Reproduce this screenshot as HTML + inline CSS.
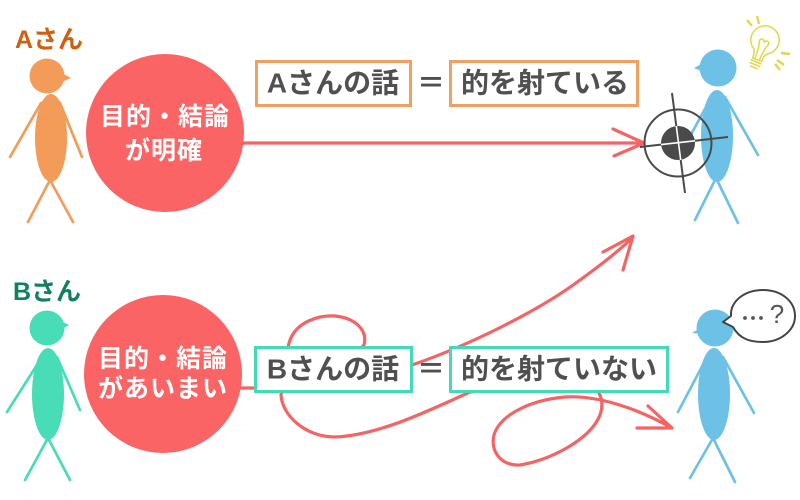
<!DOCTYPE html>
<html><head><meta charset="utf-8">
<style>
html,body{margin:0;padding:0;background:#fff;}
svg{display:block;}
text{font-family:"Liberation Sans","Noto Sans CJK JP",sans-serif;}
</style></head>
<body>
<svg width="800" height="500" viewBox="0 0 800 500" xmlns="http://www.w3.org/2000/svg">
  <!-- Person A (orange) -->
  <text x="49" y="40" font-size="25" font-weight="700" fill="#cf600f" text-anchor="middle" dominant-baseline="central">Aさん</text>
  <g stroke="#f39c5a" stroke-width="2.7" stroke-linecap="round" fill="none">
    <line x1="41" y1="103" x2="10" y2="157"/>
    <line x1="60" y1="103" x2="82" y2="157"/>
    <line x1="50" y1="180" x2="28" y2="222"/>
    <line x1="50" y1="180" x2="73" y2="222"/>
  </g>
  <circle cx="47" cy="76" r="17.5" fill="#f39c5a"/>
  <polygon points="62,73 71,78 62,82" fill="#f39c5a"/>
  <ellipse cx="51" cy="138" rx="16" ry="44" fill="#f39c5a"/>

  <!-- Person B (green) -->
  <text x="47" y="292" font-size="25" font-weight="700" fill="#0f8060" text-anchor="middle" dominant-baseline="central">Bさん</text>
  <g stroke="#48ddb6" stroke-width="2.7" stroke-linecap="round" fill="none">
    <line x1="42" y1="357" x2="7" y2="412"/>
    <line x1="57" y1="357" x2="80" y2="410"/>
    <line x1="48" y1="438" x2="25" y2="480"/>
    <line x1="48" y1="438" x2="70" y2="480"/>
  </g>
  <circle cx="47" cy="328" r="17.5" fill="#48ddb6"/>
  <polygon points="61,321 69,325 61,330" fill="#48ddb6"/>
  <ellipse cx="48" cy="394" rx="16" ry="46" fill="#48ddb6"/>

  <!-- Red lines -->
  <g stroke="#f46464" stroke-width="3.2" stroke-linecap="round" stroke-linejoin="round" fill="none">
    <line x1="240" y1="143" x2="643" y2="143"/>
    <polyline points="613,129 644,143 614,156"/>
    <path d="M240,388 L262,388 C330,385 380,375 412,365 C470,345 540,310 580,280 C605,262 622,248 633,237"/>
    <path d="M603,252 L633,236 L623,270"/>
    <path d="M300,380 C285,370 285,355 290,340 C297,322 318,315 335,316 C355,318 368,330 364,345 L340,370 C300,380 282,385 281,395 C282,415 305,437 335,437 C380,435 430,410 470,392 L580,380 C600,385 605,400 600,415 C590,440 550,460 520,465 C500,466 490,450 494,435 C500,415 530,400 565,397 C600,395 640,410 672,428"/>
    <path d="M648,406 L672,428 L637,428"/>
  </g>

  <!-- Red circles -->
  <circle cx="165" cy="133" r="79" fill="#fa6464"/>
  <text x="165" y="117" font-size="25" font-weight="700" fill="#fff" text-anchor="middle" dominant-baseline="central" letter-spacing="1">目的・結論</text>
  <text x="164" y="151" font-size="25" font-weight="700" fill="#fff" text-anchor="middle" dominant-baseline="central" letter-spacing="1">が明確</text>
  <circle cx="163" cy="374" r="79" fill="#fa6464"/>
  <text x="163" y="359" font-size="25" font-weight="700" fill="#fff" text-anchor="middle" dominant-baseline="central" letter-spacing="1">目的・結論</text>
  <text x="163" y="389" font-size="25" font-weight="700" fill="#fff" text-anchor="middle" dominant-baseline="central" letter-spacing="1">があいまい</text>

  <!-- A boxes -->
  <rect x="256.5" y="61.5" width="154" height="44" fill="#fff" stroke="#f0a060" stroke-width="3"/>
  <text x="333" y="83" font-size="28" font-weight="700" fill="#505050" text-anchor="middle" dominant-baseline="central">Aさんの話</text>
  <text x="431" y="83" font-size="28" font-weight="700" fill="#505050" text-anchor="middle" dominant-baseline="central">＝</text>
  <rect x="450.5" y="61.5" width="187" height="44" fill="#fff" stroke="#f0a060" stroke-width="3"/>
  <text x="545" y="83" font-size="28" font-weight="700" fill="#505050" text-anchor="middle" dominant-baseline="central">的を射ている</text>

  <!-- B boxes -->
  <rect x="255.5" y="347.5" width="156" height="44" fill="#fff" stroke="#45dab6" stroke-width="3"/>
  <text x="333" y="369" font-size="28" font-weight="700" fill="#505050" text-anchor="middle" dominant-baseline="central">Bさんの話</text>
  <text x="431" y="369" font-size="28" font-weight="700" fill="#505050" text-anchor="middle" dominant-baseline="central">＝</text>
  <rect x="450.5" y="347.5" width="217" height="44" fill="#fff" stroke="#45dab6" stroke-width="3"/>
  <text x="559" y="369" font-size="28" font-weight="700" fill="#505050" text-anchor="middle" dominant-baseline="central">的を射ていない</text>

  <!-- Upper right person (blue) -->
  <g stroke="#6ec1e6" stroke-width="2.7" stroke-linecap="round" fill="none">
    <line x1="712" y1="96" x2="688" y2="140"/>
    <line x1="725" y1="97" x2="758" y2="155"/>
    <line x1="715" y1="180" x2="695" y2="220"/>
    <line x1="717" y1="180" x2="738" y2="223"/>
  </g>
  <circle cx="718" cy="68" r="18.5" fill="#6ec1e6"/>
  <polygon points="703,63 694,68 703,72" fill="#6ec1e6"/>
  <ellipse cx="717" cy="136" rx="16" ry="46" fill="#6ec1e6"/>

  <!-- Target -->
  <g stroke="#4a4a4a" stroke-width="2" fill="none">
    <circle cx="678" cy="143" r="33.5"/>
    <line x1="672" y1="93" x2="685" y2="193"/>
    <line x1="640" y1="147" x2="728" y2="137"/>
  </g>
  <circle cx="678" cy="143" r="17" fill="#4a4a4a"/>
  <g stroke="#fff" stroke-width="1.6">
    <line x1="676.3" y1="126" x2="680.7" y2="160"/>
    <line x1="661" y1="144.6" x2="695" y2="140.8"/>
  </g>

  <!-- Light bulb -->
  <g transform="translate(765,40) rotate(22) scale(1.18)" stroke="#e3d54c" stroke-width="1.3" fill="none" stroke-linecap="round" stroke-linejoin="round">
    <path d="M-6,10.4 A12,12 0 1 1 6,10.4 C4.5,12.5 4,15 4,18 L-4,18 C-4,15 -4.5,12.5 -6,10.4 Z"/>
    <path d="M-2,17 C-2,10 -3,6 -4,3 C-5,0 -1,-1 0,2 C1,-1 5,0 4,3 C3,6 2,10 2,17"/>
    <line x1="-4.5" y1="20" x2="4.5" y2="20"/>
    <line x1="-4.5" y1="22.5" x2="4.5" y2="22.5"/>
    <line x1="-3" y1="25" x2="3" y2="25"/>
  </g>
  <g stroke="#e3d54c" stroke-width="2.4" stroke-linecap="butt">
    <line x1="747" y1="20" x2="752" y2="26"/>
    <line x1="757" y1="16" x2="759" y2="24"/>
    <line x1="781" y1="53" x2="790" y2="54"/>
    <line x1="777" y1="60" x2="784" y2="65"/>
    <line x1="775" y1="64" x2="780" y2="70"/>
  </g>

  <!-- Lower right person (blue) -->
  <g stroke="#6ec1e6" stroke-width="2.7" stroke-linecap="round" fill="none">
    <line x1="707" y1="357" x2="678" y2="412"/>
    <line x1="723" y1="357" x2="754" y2="413"/>
    <line x1="713" y1="438" x2="690" y2="478"/>
    <line x1="713" y1="438" x2="735" y2="482"/>
  </g>
  <circle cx="715" cy="328" r="18.5" fill="#6ec1e6"/>
  <polygon points="700,328 692,333 701,334" fill="#6ec1e6"/>
  <ellipse cx="714" cy="394" rx="16" ry="46" fill="#6ec1e6"/>

  <!-- Speech bubble -->
  <path d="M733,327 C740,340 752,342 763,342 C781,342 795,330 795,316 C795,301 781,290 763,290 C745,290 730,301 731,316 L723,322 Z" fill="#fff" stroke="#444" stroke-width="2" stroke-linejoin="round"/>
  <circle cx="745" cy="318" r="1.9" fill="#555"/>
  <circle cx="753" cy="318" r="1.9" fill="#555"/>
  <circle cx="761" cy="318" r="1.9" fill="#555"/>
  <text x="777" y="314" font-size="26" fill="#555" text-anchor="middle" dominant-baseline="central">?</text>
</svg>
</body></html>
